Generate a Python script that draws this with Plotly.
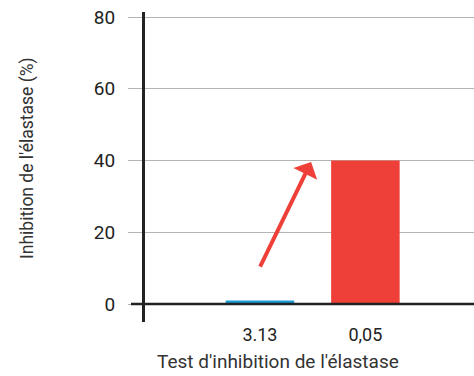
import plotly.graph_objects as go

# Elastase inhibition data
categories = ["3.13", "0,05"]
inhibition = [1.0, 40]
bar_colors = ["#1a9ad6", "#ee4039"]
y_ticks = [0, 20, 40, 60, 80]

W, H = 474, 376
L, R, T, B = 145, 0, 12, 54
plot_w = W - L - R
plot_h = H - T - B

fig = go.Figure()
fig.add_trace(go.Bar(
    x=[0, 1], y=inhibition, marker=dict(color=bar_colors, line=dict(width=0)),
    width=0.65, showlegend=False,
))

fig.update_layout(
    width=W, height=H,
    margin=dict(l=L, r=R, t=T, b=B),
    paper_bgcolor="white", plot_bgcolor="white",
    font=dict(family="Roboto", size=18, color="#222222"),
    xaxis=dict(
        range=[-1.09, 2.03], tickmode="array", tickvals=[0, 1], ticktext=categories,
        showgrid=False, zeroline=False, showline=False, ticks="",
        tickfont=dict(size=18, family="Roboto", color="#222222"),
    ),
    yaxis=dict(
        range=[-5, 81.4], tickvals=y_ticks, showgrid=True, gridcolor="#b4b4b4", gridwidth=1.3,
        zeroline=False, showline=True, linecolor="#222222", linewidth=3,
        ticks="outside", ticklen=14, tickcolor="#b4b4b4", tickwidth=1.3,
        ticklabelstandoff=9,
        tickfont=dict(size=19, family="Roboto", color="#222222"),
    ),
)

# baseline at zero, extending left past the axis like the tick marks
fig.add_shape(type="line", xref="paper", yref="y", x0=-14 / plot_w, x1=1, y0=0, y1=0,
              line=dict(color="#222222", width=2.5), layer="above")

# arrow pointing from the small bar toward the top of the large bar
fig.add_annotation(
    x=0.485, y=39.6, ax=-0.005, ay=10, xref="x", yref="y", axref="x", ayref="y",
    showarrow=True, arrowhead=1, arrowsize=1.1, arrowwidth=4, arrowcolor="#ee4039", text="",
)

# axis titles
fig.add_annotation(
    x=(278 - L) / plot_w, y=-0.128, xref="paper", yref="paper",
    text="Test d'inhibition de l'élastase", showarrow=False,
    font=dict(size=19, family="Roboto", color="#333333"), yanchor="middle",
)
fig.add_annotation(
    x=-(L - 27) / plot_w, y=(H - B - 158) / plot_h, xref="paper", yref="paper",
    text="Inhibition de l'élastase (%)", showarrow=False, textangle=-90,
    font=dict(size=17.5, family="Roboto", color="#333333"), xanchor="center", yanchor="middle",
)

fig.write_html("out.html")
